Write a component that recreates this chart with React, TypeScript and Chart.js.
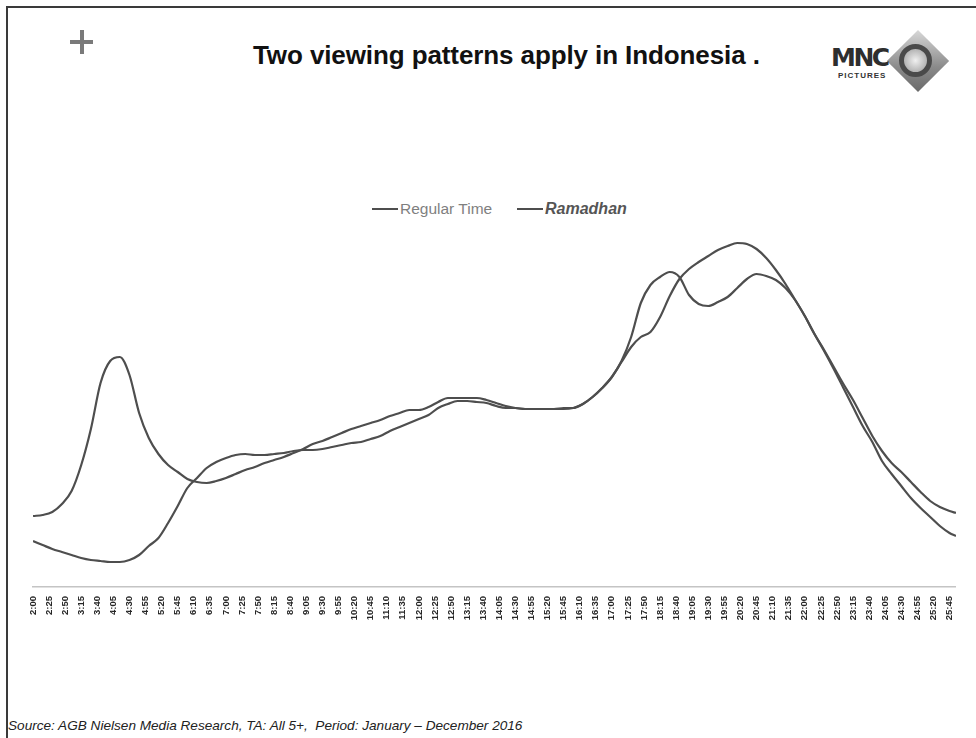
import React, { useEffect, useRef } from "react";
import { Chart, registerables } from "chart.js";

Chart.register(...registerables);

// x positions of the readings, minutes after midnight (2:00 .. 25:55)
const TIMES = [
  120, 135, 150, 165, 180, 195, 210, 225, 240, 255,
  270, 285, 300, 315, 330, 345, 360, 375, 390, 405,
  420, 435, 450, 465, 480, 495, 510, 525, 540, 555,
  570, 585, 600, 615, 630, 645, 660, 675, 690, 705,
  720, 735, 750, 765, 780, 795, 810, 825, 840, 855,
  870, 885, 900, 915, 930, 945, 960, 975, 990, 1005,
  1020, 1035, 1050, 1065, 1080, 1095, 1110, 1125, 1140, 1155,
  1170, 1185, 1200, 1215, 1230, 1245, 1260, 1275, 1290, 1305,
  1320, 1335, 1350, 1365, 1380, 1395, 1410, 1425, 1440, 1455,
  1470, 1485, 1500, 1515, 1530, 1545, 1555,
];

const REGULAR = [
  2.3, 2.1, 1.9, 1.75, 1.6, 1.45, 1.35, 1.3, 1.25, 1.25,
  1.35, 1.6, 2.05, 2.45, 3.2, 4.05, 4.95, 5.45, 5.95, 6.25,
  6.45, 6.6, 6.65, 6.6, 6.6, 6.65, 6.7, 6.8, 6.85, 6.85,
  6.9, 7.0, 7.1, 7.2, 7.25, 7.4, 7.55, 7.8, 8.0, 8.2,
  8.4, 8.6, 8.95, 9.15, 9.3, 9.3, 9.25, 9.2, 9.05, 8.95,
  8.95, 8.9, 8.9, 8.9, 8.9, 8.95, 8.95, 9.15, 9.5, 9.95,
  10.5, 11.25, 12.0, 12.5, 12.75, 13.5, 14.55, 15.4, 15.9, 16.25,
  16.55, 16.85, 17.05, 17.2, 17.15, 16.9, 16.45, 15.85, 15.15, 14.35,
  13.55, 12.65, 11.8, 10.9, 9.95, 9.0, 8.05, 7.25, 6.3, 5.65,
  5.05, 4.45, 3.95, 3.5, 3.05, 2.7, 2.55,
];

const RAMADHAN = [
  3.55, 3.6, 3.75, 4.15, 4.8, 6.1, 7.9, 10.2, 11.3, 11.5,
  10.6, 8.7, 7.45, 6.65, 6.1, 5.75, 5.4, 5.25, 5.2, 5.3,
  5.45, 5.65, 5.85, 6.0, 6.2, 6.35, 6.5, 6.7, 6.9, 7.15,
  7.3, 7.5, 7.7, 7.9, 8.05, 8.2, 8.35, 8.55, 8.7, 8.85,
  8.85, 9.0, 9.25, 9.45, 9.45, 9.45, 9.45, 9.35, 9.2, 9.05,
  8.95, 8.9, 8.9, 8.9, 8.9, 8.9, 8.95, 9.15, 9.5, 9.95,
  10.5, 11.3, 12.5, 14.2, 15.1, 15.5, 15.75, 15.5, 14.6, 14.15,
  14.05, 14.25, 14.5, 14.95, 15.4, 15.65, 15.55, 15.35, 14.95, 14.35,
  13.55, 12.65, 11.85, 11.0, 10.15, 9.35, 8.45, 7.55, 6.8, 6.2,
  5.75, 5.25, 4.75, 4.3, 4.0, 3.8, 3.7,
];

const TICK_LABELS = [
  "2:00", "2:25", "2:50", "3:15", "3:40", "4:05", "4:30", "4:55", "5:20", "5:45",
  "6:10", "6:35", "7:00", "7:25", "7:50", "8:15", "8:40", "9:05", "9:30", "9:55",
  "10:20", "10:45", "11:10", "11:35", "12:00", "12:25", "12:50", "13:15", "13:40", "14:05",
  "14:30", "14:55", "15:20", "15:45", "16:10", "16:35", "17:00", "17:25", "17:50", "18:15",
  "18:40", "19:05", "19:30", "19:55", "20:20", "20:45", "21:10", "21:35", "22:00", "22:25",
  "22:50", "23:15", "23:40", "24:05", "24:30", "24:55", "25:20", "25:45",
];

const SERIES_NAMES = ["Regular Time", "Ramadhan"];

const toMinutes = (s: string) => {
  const [h, m] = s.split(":").map(Number);
  return h * 60 + m;
};
const TICK_MINUTES = TICK_LABELS.map(toMinutes);

const LINE = "#4e4e4e";

export default function App() {
  const ref = useRef<HTMLCanvasElement | null>(null);

  useEffect(() => {
    if (!ref.current) return;
    const chart = new Chart(ref.current, {
      type: "line",
      data: {
        datasets: [
          {
            label: SERIES_NAMES[0],
            data: TIMES.map((t, i) => ({ x: t, y: REGULAR[i] })),
            borderColor: LINE,
            borderWidth: 2.2,
            pointRadius: 0,
            cubicInterpolationMode: "monotone",
            fill: false,
          },
          {
            label: SERIES_NAMES[1],
            data: TIMES.map((t, i) => ({ x: t, y: RAMADHAN[i] })),
            borderColor: LINE,
            borderWidth: 2.2,
            pointRadius: 0,
            cubicInterpolationMode: "monotone",
            fill: false,
          },
        ],
      },
      options: {
        animation: false,
        responsive: false,
        layout: { padding: { left: 13, right: 11, top: 0, bottom: 0 } },
        plugins: {
          legend: { display: false },
          tooltip: { enabled: false },
        },
        scales: {
          x: {
            type: "linear",
            min: 120,
            max: 1555,
            grid: { display: false, drawTicks: false },
            border: { display: true, color: "#c4c4c4", width: 1.5 },
            afterBuildTicks: (scale: any) => {
              scale.ticks = TICK_MINUTES.map((v) => ({ value: v }));
            },
            afterFit: (scale: any) => {
              scale.height = 53;
            },
            ticks: {
              autoSkip: false,
              minRotation: 90,
              maxRotation: 90,
              padding: 9,
              color: "#262626",
              font: { family: "Liberation Sans", size: 9.5, weight: "bold" },
              callback: (v: any) => {
                const idx = TICK_MINUTES.indexOf(Number(v));
                return idx >= 0 ? TICK_LABELS[idx] : "";
              },
            },
          },
          y: {
            display: false,
            min: 0,
            max: 24.35,
          },
        },
      },
    });
    return () => chart.destroy();
  }, []);

  const legendLine = (
    <span style={{ display: "inline-block", width: 26, height: 2, background: LINE, verticalAlign: "middle", marginRight: 2 }} />
  );

  return (
    <div style={{ position: "absolute", left: 0, top: 0, width: 976, height: 738, overflow: "hidden", background: "#fff", fontFamily: "Liberation Sans, Arial, sans-serif" }}>
      {/* frame */}
      <div style={{ position: "absolute", left: 6, top: 6, width: 990, height: 760, borderTop: "2px solid #3a3a3a", borderLeft: "2px solid #3a3a3a" }} />
      {/* plus sign */}
      <div style={{ position: "absolute", left: 70, top: 40, width: 23, height: 4, background: "#7a7a7a" }} />
      <div style={{ position: "absolute", left: 80, top: 30, width: 4, height: 24, background: "#7a7a7a" }} />
      {/* title */}
      <div style={{ position: "absolute", left: 253, top: 40, fontSize: 26, fontWeight: "bold", color: "#111", whiteSpace: "nowrap", letterSpacing: -0.1 }}>
        Two viewing patterns apply in Indonesia .
      </div>
      {/* logo */}
      <div style={{ position: "absolute", left: 896, top: 39, width: 44, height: 44, transform: "rotate(45deg)", background: "linear-gradient(135deg, #d8d8d8, #8a8a8a 60%, #6a6a6a)" }} />
      <div style={{ position: "absolute", left: 899, top: 44, width: 33, height: 33, borderRadius: "50%", border: "5px solid #4a4a4a", boxSizing: "border-box", background: "radial-gradient(circle, #f0f0f0, #9a9a9a)" }} />
      <div style={{ position: "absolute", left: 831, top: 45, fontSize: 25, fontWeight: 900, color: "#2e2e2e", letterSpacing: -2.5, fontFamily: "DejaVu Sans, sans-serif", lineHeight: "25px" }}>
        MNC
      </div>
      <div style={{ position: "absolute", left: 838, top: 71, fontSize: 8, fontWeight: "bold", color: "#333", letterSpacing: 1, lineHeight: "9px" }}>
        PICTURES
      </div>
      {/* legend */}
      <div style={{ position: "absolute", left: 372, top: 198, whiteSpace: "nowrap", fontSize: 15.5, lineHeight: "20px" }}>
        {legendLine}
        <span style={{ color: "#7f7f7f", verticalAlign: "middle" }}>{SERIES_NAMES[0]}</span>
      </div>
      <div style={{ position: "absolute", left: 517, top: 198, whiteSpace: "nowrap", fontSize: 16, lineHeight: "20px" }}>
        {legendLine}
        <span style={{ color: "#555", fontWeight: "bold", fontStyle: "italic", verticalAlign: "middle" }}>{SERIES_NAMES[1]}</span>
      </div>
      <canvas ref={ref} width={950} height={540} style={{ position: "absolute", left: 20, top: 100 }} />
      {/* source */}
      <div style={{ position: "absolute", left: 8, top: 718, fontSize: 13.6, fontStyle: "italic", color: "#222", whiteSpace: "nowrap", letterSpacing: 0 }}>
        Source: AGB Nielsen Media Research, TA: All 5+,&nbsp; Period: January – December 2016
      </div>
    </div>
  );
}
